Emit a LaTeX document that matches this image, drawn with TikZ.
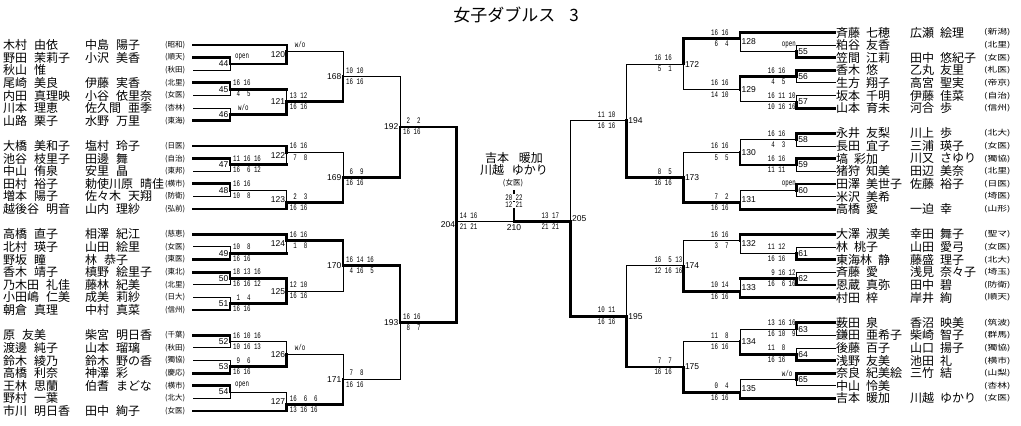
\documentclass[tikz,border=0pt]{standalone}
\usepackage{fontspec}
\usetikzlibrary{calc}
\newfontfamily\jp{Noto Sans CJK JP}
\newfontfamily\scf{Liberation Mono}
\newfontfamily\numf{Liberation Sans}
\newcommand\sx[1]{\scalebox{0.68}[1]{\scf\fontsize{8.5}{8.5}\selectfont #1}}
\newcommand\mk[4]{\coordinate (t#1) at ($(#3)!.5!(#4)$); \coordinate (#1) at (#2 |- t#1);}
\newcommand\lk[3]{\draw[#3] (#1) -- (#1 -| #2) -- (#2);}
\newcommand\lkh[4]{\draw[#3] (#1) -- (#1 -| #2); \draw[#4] (#1 -| #2) -- (#2);}
\newcommand\scL[3]{\node[scs,anchor=south west] (sa#1) at ($(#1)+(3,-3.2)$) {\sx{#2}}; \node[scs,anchor=north west] (sb#1) at ($(#1)+(3,2)$) {\sx{#3}};}
\newcommand\scR[3]{\node[scs,anchor=south west] (sa#1) at ($(#1)+(-29,-3.2)$) {\sx{#2}}; \node[scs,anchor=north west] (sb#1) at ($(#1)+(-29,2)$) {\sx{#3}};}
\newcommand\wL[3]{\node[scs,anchor=south west] (w#1) at ($(#1)+(#2,-3.2)$) {\sx{#3}};}
\newcommand\wR[2]{\node[scs,anchor=south west] (w#1) at ($(#1)+(-15,-3.2)$) {\sx{#2}};}
\newcommand\nbL[4]{\node[numl,anchor=east,xshift=-1.5pt] (n#1) at ($(#2 -| #1)!.5!(#3 -| #1)$) {#4};}
\newcommand\nbR[4]{\node[numl,anchor=west,xshift=1.5pt] (n#1) at ($(#2 -| #1)!.5!(#3 -| #1)$) {#4};}
\newcommand\pL[6]{\node[nms,anchor=west] (aL#1) at (XA |- L#1) {#2\hspace{7pt}#3}; \node[nms,anchor=west] (bL#1) at (XB |- L#1) {#4\hspace{7pt}#5}; \node[uns,anchor=west] (uL#1) at (XU |- L#1) {(#6)};}
\newcommand\pLs[4]{\node[nms,anchor=west] (aL#1) at (XA |- L#1) {#2\hspace{7pt}#3}; \node[uns,anchor=west] (uL#1) at (XU |- L#1) {(#4)};}
\newcommand\pR[6]{\node[nms,anchor=west] (aR#1) at (XRA |- R#1) {#2\hspace{6pt}#3}; \node[nms,anchor=west] (bR#1) at (XRB |- R#1) {#4\hspace{6pt}#5}; \node[uns,anchor=west] (uR#1) at (XRU |- R#1) {\scalebox{1.3}[1]{(#6)}};}
\newcommand\pRs[4]{\node[nms,anchor=west] (aR#1) at (XRA |- R#1) {#2\hspace{6pt}#3}; \node[uns,anchor=west] (uR#1) at (XRU |- R#1) {\scalebox{1.3}[1]{(#4)}};}
\begin{document}
\begin{tikzpicture}[x=1pt,y=-1pt,
 thn/.style={line width=1pt,line cap=rect},
 thk/.style={line width=2.8pt,line cap=rect},
 med/.style={line width=1.8pt,line cap=rect},
 nms/.style={inner sep=0pt,font=\jp\fontsize{12}{12}\selectfont},
 uns/.style={inner sep=0pt,font=\jp\fontsize{7.5}{7.5}\selectfont},
 numl/.style={inner sep=0pt,font=\numf\fontsize{8.5}{8.5}\selectfont},
 scs/.style={inner sep=0pt}]
\fill[white] (0,0) rectangle (1021,426);
\useasboundingbox (0,0) rectangle (1021,426);
% row coordinates
\foreach \k in {0,1,2,3,4,5,6,8,9,10,11,12,13,15,16,17,18,19,20,21,23,24,25,26,27,28,29} {\coordinate (L\k) at (193,{45+12.62*\k});}
\foreach \k in {0,1,2,3,4,5,6,8,9,10,11,12,13,14,16,17,18,19,20,21,23,24,25,26,27,28,29} {\coordinate (R\k) at (835,{32.5+12.62*\k});}
\coordinate (XA) at (3,0); \coordinate (XB) at (85,0); \coordinate (XU) at (165,0);
\coordinate (XRA) at (836,0); \coordinate (XRB) at (910,0); \coordinate (XRU) at (984,0);
\coordinate (XL1) at (230,0); \coordinate (XL2) at (286.7,0); \coordinate (XL3) at (343,0);
\coordinate (XL4) at (400,0); \coordinate (XL5) at (456.7,0);
\coordinate (XR1) at (796.7,0); \coordinate (XR2) at (740,0); \coordinate (XR3) at (683.3,0);
\coordinate (XR4) at (626.7,0); \coordinate (XR5) at (570.5,0); \coordinate (XC) at (514,0);
% left matches
\mk{m44}{XL1}{L1}{L2} \mk{m45}{XL1}{L3}{L4} \mk{m46}{XL1}{L5}{L6}
\mk{m120}{XL2}{L0}{L1} \mk{m121}{XL2}{m45}{m46} \mk{m168}{XL3}{m120}{m121}
\mk{m47}{XL1}{L9}{L10} \mk{m48}{XL1}{L11}{L12}
\mk{m122}{XL2}{L8}{L9} \mk{m123}{XL2}{L12}{L13} \mk{m169}{XL3}{m122}{m123}
\mk{m192}{XL4}{m168}{m169}
\mk{m49}{XL1}{L16}{L17} \mk{m50}{XL1}{L18}{L19} \mk{m51}{XL1}{L20}{L21}
\mk{m124}{XL2}{L15}{L16} \mk{m125}{XL2}{m50}{m51} \mk{m170}{XL3}{m124}{m125}
\mk{m52}{XL1}{L23}{L24} \mk{m53}{XL1}{L25}{L26} \mk{m54}{XL1}{L27}{L28}
\mk{m126}{XL2}{m52}{m53} \mk{m127}{XL2}{L28}{L29} \mk{m171}{XL3}{m126}{m127}
\mk{m193}{XL4}{m170}{m171}
\mk{m204}{XL5}{m192}{m193}
% right matches
\mk{m55}{XR1}{R1}{R2} \mk{m56}{XR1}{R3}{R4} \mk{m57}{XR1}{R5}{R6}
\mk{m128}{XR2}{R0}{R1} \mk{m129}{XR2}{m56}{m57} \mk{m172}{XR3}{m128}{m129}
\mk{m58}{XR1}{R8}{R9} \mk{m59}{XR1}{R10}{R11} \mk{m60}{XR1}{R12}{R13}
\mk{m130}{XR2}{m58}{m59} \mk{m131}{XR2}{R13}{R14} \mk{m173}{XR3}{m130}{m131}
\mk{m194}{XR4}{m172}{m173}
\mk{m61}{XR1}{R17}{R18} \mk{m62}{XR1}{R19}{R20}
\mk{m132}{XR2}{R16}{R17} \mk{m133}{XR2}{R20}{R21} \mk{m174}{XR3}{m132}{m133}
\mk{m63}{XR1}{R23}{R24} \mk{m64}{XR1}{R25}{R26} \mk{m65}{XR1}{R27}{R28}
\mk{m134}{XR2}{m63}{m64} \mk{m135}{XR2}{R28}{R29} \mk{m175}{XR3}{m134}{m135}
\mk{m195}{XR4}{m174}{m175}
\mk{m205}{XR5}{m194}{m195}
\mk{F}{XC}{m204}{m205}
% left links
\lk{L0}{m120}{med} \lk{L1}{m44}{thk} \lk{L2}{m44}{thn}
\lk{L3}{m45}{thk} \lk{L4}{m45}{thn} \lk{L5}{m46}{thn} \lk{L6}{m46}{thk}
\lk{m44}{m120}{thk} \lkh{m45}{m121}{thk}{thn} \lk{m46}{m121}{thk}
\lk{m120}{m168}{thn} \lk{m121}{m168}{thk} \lk{m168}{m192}{thn}
\lk{L8}{m122}{thk} \lk{L9}{m47}{thk} \lk{L10}{m47}{thn}
\lk{L11}{m48}{thk} \lk{L12}{m48}{thn} \lk{L13}{m123}{thk}
\lkh{m47}{m122}{thk}{thn} \lk{m48}{m123}{thn}
\lk{m122}{m169}{thn} \lk{m123}{m169}{thk} \lk{m169}{m192}{thk}
\lk{L15}{m124}{thk} \lk{L16}{m49}{thn} \lk{L17}{m49}{thk}
\lk{L18}{m50}{thk} \lk{L19}{m50}{thn} \lk{L20}{m51}{thn} \lk{L21}{m51}{thk}
\lkh{m49}{m124}{thk}{thn} \lk{m50}{m125}{thk} \lk{m51}{m125}{thk}
\lk{m124}{m170}{thk} \lk{m125}{m170}{thn} \lk{m170}{m193}{thk}
\lk{L23}{m52}{thk} \lk{L24}{m52}{thn} \lk{L25}{m53}{thn} \lk{L26}{m53}{thk}
\lk{L27}{m54}{thk} \lk{L28}{m54}{thn} \lk{L29}{m127}{thk}
\lk{m52}{m126}{thn} \lk{m53}{m126}{thk} \lk{m54}{m127}{thn}
\lk{m126}{m171}{thn} \lk{m127}{m171}{thk} \lk{m171}{m193}{thn}
% right links
\lk{R0}{m128}{thk} \lk{R1}{m55}{thn} \lk{R2}{m55}{thk}
\lk{R3}{m56}{thk} \lk{R4}{m56}{thn} \lk{R5}{m57}{thn} \lk{R6}{m57}{thk}
\lk{m55}{m128}{thn} \lk{m56}{m129}{thk} \lk{m57}{m129}{thn}
\lk{m128}{m172}{thk} \lk{m129}{m172}{thn} \lk{m172}{m194}{thn}
\lk{R8}{m58}{thk} \lk{R9}{m58}{thn} \lk{R10}{m59}{thk} \lk{R11}{m59}{thn}
\lk{R12}{m60}{thk} \lk{R13}{m60}{thn} \lk{R14}{m131}{thk}
\lk{m58}{m130}{thn} \lk{m59}{m130}{thk} \lk{m60}{m131}{thn}
\lk{m130}{m173}{thn} \lk{m131}{m173}{thk} \lk{m173}{m194}{thk}
\lk{R16}{m132}{thk} \lk{R17}{m61}{thn} \lk{R18}{m61}{thk}
\lk{R19}{m62}{thn} \lk{R20}{m62}{thk} \lk{R21}{m133}{thk}
\lk{m61}{m132}{thn} \lkh{m62}{m133}{thk}{thn}
\lk{m132}{m174}{thn} \lk{m133}{m174}{thk} \lk{m174}{m195}{thn}
\lk{R23}{m63}{thk} \lk{R24}{m63}{thn} \lk{R25}{m64}{thn} \lk{R26}{m64}{thk}
\lk{R27}{m65}{thk} \lk{R28}{m65}{thn} \lk{R29}{m135}{thk}
\lk{m63}{m134}{thn} \lk{m64}{m134}{thk} \lk{m65}{m135}{thn}
\lk{m134}{m175}{thn} \lk{m135}{m175}{thk} \lk{m175}{m195}{thk}
% semifinals and final
\draw[thk] (m192) -- (m192 -| XL5) -- (m193 -| XL5) -- (m193);
\draw[thn] (F -| XL5) -- (F);
\draw[thk] (F) -- (F -| XR5);
\draw[thn] (m194) -- (m194 -| XR5) -- (F -| XR5);
\draw[thk] (m195) -- (m195 -| XR5) -- (F -| XR5);
\coordinate (T) at (514,191.7);
\draw[thk] (T) -- (F);
% scores left
\wL{m44}{5}{open} \scL{m45}{16~16}{~4~~5} \wL{m46}{8}{w/o}
\wL{m120}{8}{w/o} \scL{m121}{13~12}{16~16} \scL{m168}{10~10}{16~16}
\scL{m47}{11~16~16}{16~~6~12} \scL{m48}{16~16}{10~~8}
\scL{m122}{16~16}{~7~~8} \scL{m123}{~2~~3}{16~16} \scL{m169}{~6~~9}{16~16}
\scL{m192}{~2~~2}{16~16}
\scL{m49}{10~~8}{16~16} \scL{m50}{18~13~16}{16~16~12} \scL{m51}{~1~~4}{16~16}
\scL{m124}{16~16}{~1~~8} \scL{m125}{12~10}{16~16} \scL{m170}{16~14~16}{~4~16~~5}
\scL{m52}{16~10~16}{10~16~13} \scL{m53}{~9~~6}{16~16} \wL{m54}{5}{open}
\wL{m126}{8}{w/o} \scL{m127}{16~~6~~6}{13~16~16} \scL{m171}{~7~~8}{16~16}
\scL{m193}{16~16}{~8~~7}
\node[scs,anchor=south west] (sam204) at ($(F -| XL5)+(3,-3.2)$) {\sx{14~16}};
\node[scs,anchor=north west] (sbm204) at ($(F -| XL5)+(3,2)$) {\sx{21~21}};
% scores right
\wR{m55}{open} \scR{m56}{16~16}{~4~~5} \scR{m57}{16~11~10}{10~16~16}
\scR{m128}{16~16}{~6~~4} \scR{m129}{16~16}{14~10} \scR{m172}{16~16}{~5~~1}
\scR{m58}{16~16}{~4~~3} \scR{m59}{16~16}{11~11} \wR{m60}{open}
\scR{m130}{16~16}{~5~~5} \scR{m131}{~7~~2}{16~16} \scR{m173}{~8~~5}{16~16}
\scR{m194}{11~10}{16~16}
\scR{m61}{11~12}{16~16} \scR{m62}{~9~16~12}{16~~6~16}
\scR{m132}{16~16}{~3~~7} \scR{m133}{10~14}{16~16} \scR{m174}{16~~5~13}{12~16~16}
\scR{m63}{13~16~16}{16~10~~9} \scR{m64}{11~~8}{16~16} \wR{m65}{w/o}
\scR{m134}{11~~8}{16~16} \scR{m135}{~0~~4}{16~16} \scR{m175}{~7~~7}{16~16}
\scR{m195}{10~11}{16~16}
\node[scs,anchor=south west] (sam205) at ($(F -| XR5)+(-29,-3.2)$) {\sx{13~17}};
\node[scs,anchor=north west] (sbm205) at ($(F -| XR5)+(-29,2)$) {\sx{21~21}};
\node[scs,fill=white,inner sep=0.6pt] (fs1) at (514,197.7) {\sx{20~22}};
\node[scs,fill=white,inner sep=0.6pt] (fs2) at (514,205) {\sx{12~21}};
% match numbers left
\nbL{m44}{L1}{L2}{44} \nbL{m45}{L3}{L4}{45} \nbL{m46}{L5}{L6}{46}
\nbL{m120}{L0}{m44}{120} \nbL{m121}{m45}{m46}{121} \nbL{m168}{m120}{m121}{168}
\nbL{m47}{L9}{L10}{47} \nbL{m48}{L11}{L12}{48}
\nbL{m122}{L8}{m47}{122} \nbL{m123}{m48}{L13}{123} \nbL{m169}{m122}{m123}{169}
\nbL{m192}{m168}{m169}{192}
\nbL{m49}{L16}{L17}{49} \nbL{m50}{L18}{L19}{50} \nbL{m51}{L20}{L21}{51}
\nbL{m124}{L15}{m49}{124} \nbL{m125}{m50}{m51}{125} \nbL{m170}{m124}{m125}{170}
\nbL{m52}{L23}{L24}{52} \nbL{m53}{L25}{L26}{53} \nbL{m54}{L27}{L28}{54}
\nbL{m126}{m52}{m53}{126} \nbL{m127}{m54}{L29}{127} \nbL{m171}{m126}{m127}{171}
\nbL{m193}{m170}{m171}{193}
\nbL{m204}{m192}{m193}{204}
% match numbers right
\nbR{m55}{R1}{R2}{55} \nbR{m56}{R3}{R4}{56} \nbR{m57}{R5}{R6}{57}
\nbR{m128}{R0}{m55}{128} \nbR{m129}{m56}{m57}{129} \nbR{m172}{m128}{m129}{172}
\nbR{m58}{R8}{R9}{58} \nbR{m59}{R10}{R11}{59} \nbR{m60}{R12}{R13}{60}
\nbR{m130}{m58}{m59}{130} \nbR{m131}{m60}{R14}{131} \nbR{m173}{m130}{m131}{173}
\nbR{m194}{m172}{m173}{194}
\nbR{m61}{R17}{R18}{61} \nbR{m62}{R19}{R20}{62}
\nbR{m132}{R16}{m61}{132} \nbR{m133}{m62}{R21}{133} \nbR{m174}{m132}{m133}{174}
\nbR{m63}{R23}{R24}{63} \nbR{m64}{R25}{R26}{64} \nbR{m65}{R27}{R28}{65}
\nbR{m134}{m63}{m64}{134} \nbR{m135}{m65}{R29}{135} \nbR{m175}{m134}{m135}{175}
\nbR{m195}{m174}{m175}{195}
\nbR{m205}{m194}{m195}{205}
\node[numl,anchor=north] (n210) at ($(F)+(0,3)$) {210};
% players left
\pL{0}{木村}{由依}{中島}{陽子}{昭和}
\pL{1}{野田}{茉莉子}{小沢}{美香}{順天}
\pLs{2}{秋山}{惟}{秋田}
\pL{3}{尾崎}{美良}{伊藤}{実香}{北里}
\pL{4}{内田}{真理映}{小谷}{依里奈}{女医}
\pL{5}{川本}{理恵}{佐久間}{亜季}{杏林}
\pL{6}{山路}{栗子}{水野}{万里}{東海}
\pL{8}{大橋}{美和子}{塩村}{玲子}{日医}
\pL{9}{池谷}{枝里子}{田邊}{舞}{自治}
\pL{10}{中山}{侑泉}{安里}{晶}{東邦}
\pL{11}{田村}{裕子}{勅使川原}{晴佳}{横市}
\pL{12}{増本}{陽子}{佐々木}{天翔}{防衛}
\pL{13}{越後谷}{明音}{山内}{理紗}{弘前}
\pL{15}{高橋}{直子}{相澤}{紀江}{慈恵}
\pL{16}{北村}{瑛子}{山田}{絵里}{女医}
\pL{17}{野坂}{瞳}{林}{恭子}{東医}
\pL{18}{香木}{靖子}{槙野}{絵里子}{東北}
\pL{19}{乃木田}{礼佳}{藤林}{紀美}{北里}
\pL{20}{小田嶋}{仁美}{成美}{莉紗}{日大}
\pL{21}{朝倉}{真理}{中村}{真菜}{信州}
\pL{23}{原}{友美}{柴宮}{明日香}{千葉}
\pL{24}{渡邊}{純子}{山本}{瑠璃}{秋田}
\pL{25}{鈴木}{綾乃}{鈴木}{野の香}{獨協}
\pL{26}{高橋}{利奈}{神澤}{彩}{慶応}
\pL{27}{王林}{思蘭}{伯耆}{まどな}{横市}
\pLs{28}{野村}{一葉}{北大}
\pL{29}{市川}{明日香}{田中}{絢子}{女医}
% players right
\pR{0}{斉藤}{七穂}{広瀬}{絵理}{新潟}
\pRs{1}{粕谷}{友香}{北里}
\pR{2}{笠間}{江莉}{田中}{悠紀子}{女医}
\pR{3}{香木}{悠}{乙丸}{友里}{札医}
\pR{4}{生方}{翔子}{高宮}{聖実}{帝京}
\pR{5}{坂本}{千明}{伊藤}{佳菜}{自治}
\pR{6}{山本}{育未}{河合}{歩}{信州}
\pR{8}{永井}{友梨}{川上}{歩}{北大}
\pR{9}{長田}{宜子}{三浦}{瑛子}{女医}
\pR{10}{塙}{彩加}{川又}{さゆり}{獨協}
\pR{11}{猪狩}{知美}{田辺}{美奈}{北里}
\pR{12}{田澤}{美世子}{佐藤}{裕子}{日医}
\pRs{13}{米沢}{美希}{埼医}
\pR{14}{高橋}{愛}{一迫}{幸}{山形}
\pR{16}{大澤}{淑美}{幸田}{舞子}{聖マ}
\pR{17}{林}{桃子}{山田}{愛弓}{女医}
\pR{18}{東海林}{静}{藤盛}{理子}{北大}
\pR{19}{斉藤}{愛}{浅見}{奈々子}{埼玉}
\pR{20}{恩蔵}{真弥}{田中}{碧}{防衛}
\pR{21}{村田}{梓}{岸井}{絢}{順天}
\pR{23}{薮田}{泉}{香沼}{映美}{筑波}
\pR{24}{鎌田}{亜希子}{柴崎}{智子}{群馬}
\pR{25}{後藤}{百子}{山口}{揚子}{獨協}
\pR{26}{浅野}{友美}{池田}{礼}{横市}
\pR{27}{奈良}{紀美絵}{三竹}{結}{山梨}
\pRs{28}{中山}{怜美}{杏林}
\pR{29}{吉本}{暖加}{川越}{ゆかり}{女医}
% title and champion
\node[inner sep=0pt,font=\jp\fontsize{17}{17}\selectfont] (title) at (516,15) {女子ダブルス\hspace{14pt}3};
\node[nms] (ch1) at (514,158) {吉本\hspace{10pt}暖加};
\node[nms] (ch2) at (514,170) {川越\hspace{8pt}ゆかり};
\node[uns] (ch3) at (513,183) {(女医)};
\end{tikzpicture}
\end{document}
